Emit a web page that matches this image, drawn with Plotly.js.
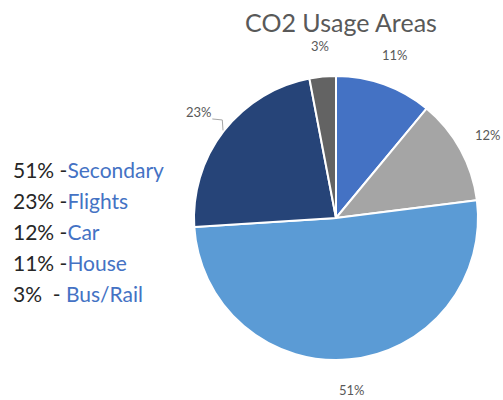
<!DOCTYPE html>
<html>
<head>
<meta charset="utf-8">
<script src="https://cdn.plot.ly/plotly-3.0.1.min.js"></script>
<style>html,body{margin:0;padding:0;background:#fff;}#chart{width:503px;height:400px;}</style>
</head>
<body>
<div id="chart"></div>
<script>
// Data
const categories = ['House', 'Car', 'Secondary', 'Flights', 'Bus/Rail'];
const values = [11, 12, 51, 23, 3];
const sliceColors = ['#4472C4', '#A5A5A5', '#5B9BD5', '#264478', '#636363'];
const titleText = 'CO2 Usage Areas';

// Layout geometry (pixels)
const W = 503, H = 400;
const cxPx = 336, cyPx = 218, rPx = 142;
const labelRPx = 173;

const total = values.reduce((a, b) => a + b, 0);
const FONT = 'Lato, "Open Sans", sans-serif';

const annotations = [];
const shapes = [];
let cum = 0;
values.forEach((v, i) => {
  const mid = (cum + v / 2) / total * 2 * Math.PI; // clockwise from 12 o'clock
  cum += v;
  const lx = cxPx + labelRPx * Math.sin(mid);
  const ly = cyPx - labelRPx * Math.cos(mid);
  annotations.push({
    x: lx / W, y: 1 - ly / H, xref: 'paper', yref: 'paper',
    text: Math.round(v / total * 100) + '%', showarrow: false,
    xanchor: 'center', yanchor: 'middle',
    font: {family: FONT, size: 13, color: '#595959'}
  });
  if (categories[i] === 'Flights') {
    const ex = cxPx + (rPx + 1) * Math.sin(mid);
    const ey = cyPx - (rPx + 1) * Math.cos(mid);
    const sx = lx + 13, sy = ly + 7;
    const kx = sx + 10, ky = sy + 1;
    shapes.push({
      type: 'path', xref: 'paper', yref: 'paper',
      path: `M ${sx / W} ${1 - sy / H} L ${kx / W} ${1 - ky / H} L ${ex / W} ${1 - ey / H}`,
      line: {color: '#A6A6A6', width: 1}
    });
  }
});

// Left side text legend, sorted descending by value
const order = values.map((v, i) => i).sort((a, b) => values[b] - values[a]);
order.forEach((idx, k) => {
  const pct = Math.round(values[idx] / total * 100) + '%';
  const sep = pct.length < 3 ? '&nbsp;&nbsp;- ' : ' -';
  annotations.push({
    x: 11 / W, y: 1 - (169 + k * 31) / H, xref: 'paper', yref: 'paper',
    xanchor: 'left', yanchor: 'middle', showarrow: false,
    text: `<span style="color:#262626">${pct}${sep}</span><span style="color:#4472C4">${categories[idx]}</span>`,
    font: {family: FONT, size: 21, color: '#262626'}
  });
});

const trace = {
  type: 'pie',
  labels: categories,
  values: values,
  sort: false,
  direction: 'clockwise',
  rotation: 0,
  textinfo: 'none',
  hoverinfo: 'label+percent',
  marker: {colors: sliceColors, line: {color: '#FFFFFF', width: 2}},
  domain: {x: [(cxPx - rPx) / W, (cxPx + rPx) / W], y: [1 - (cyPx + rPx) / H, 1 - (cyPx - rPx) / H]},
  showlegend: false
};

const layout = {
  width: W, height: H,
  margin: {l: 0, r: 0, t: 0, b: 0},
  paper_bgcolor: '#FFFFFF',
  title: {text: titleText, x: 341 / W, xanchor: 'center', y: 1 - 23 / H, yanchor: 'middle',
    font: {family: FONT, size: 25, color: '#595959'}},
  showlegend: false,
  annotations: annotations,
  shapes: shapes
};

Plotly.newPlot('chart', [trace], layout, {displayModeBar: false, staticPlot: true});
</script>
</body>
</html>
